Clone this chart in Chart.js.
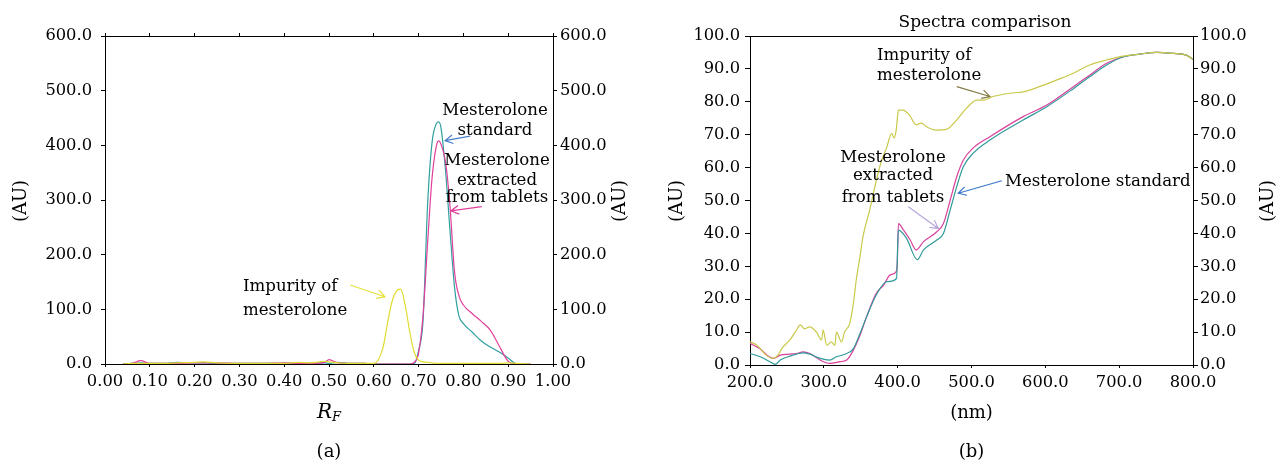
<!DOCTYPE html>
<html>
<head>
<meta charset="utf-8">
<script src="https://cdn.jsdelivr.net/npm/chart.js@4.4.1/dist/chart.umd.min.js"></script>
<style>
  body { margin: 0; background: #fff; }
  #wrap { position: relative; width: 1278px; height: 465px; }
  canvas { position: absolute; top: 0; }
</style>
</head>
<body>
<div id="wrap">
  <canvas id="rf" width="640" height="465" style="left:0"></canvas>
  <canvas id="spec" width="638" height="465" style="left:640px"></canvas>
</div>
<script>
// (a) densitogram, RF positions and peak heights (AU)
const rfGrid = [0.04, 0.06, 0.08, 0.10, 0.13, 0.16, 0.20, 0.22, 0.25, 0.30,
  0.35, 0.40, 0.43, 0.46, 0.49, 0.50, 0.52, 0.55, 0.58, 0.60,
  0.62, 0.63, 0.64, 0.65, 0.66, 0.67, 0.68, 0.69, 0.70, 0.71,
  0.72, 0.73, 0.74, 0.745, 0.75, 0.76, 0.77, 0.78, 0.79, 0.80,
  0.82, 0.84, 0.86, 0.88, 0.90, 0.92, 0.95];
const rfImpurity = [0, 1, 1, 1, 1, 2, 3, 4, 2, 1,
  1, 1, 3, 2, 5, 4, 2, 1, 1, 1,
  28, 72, 112, 133, 137, 108, 60, 22, 7, 4,
  3, 2, 1, 1, 1, 1, 1, 1, 1, 1,
  1, 1, 1, 1, 2, 1, 0];
const rfStandard = [0, 1, 2, 1, 1, 3, 2, 2, 1, 1,
  1, 1, 1, 1, 2, 1, 3, 1, 1, 0,
  0, 0, 0, 0, 0, 0, 0, 0.5, 25, 80,
  290, 405, 440, 443, 432, 355, 245, 142, 88, 74,
  58, 42, 31, 22, 11, 0, 0];
const rfExtracted = [0, 1, 6, 1, 1, 1, 2, 2, 2, 1,
  1, 2, 1, 1, 3, 8, 2, 1, 1, 0,
  0, 0, 0, 0, 0, 0, 0, 3, 20, 90,
  220, 340, 400, 408, 402, 370, 290, 170, 125, 108,
  92, 78, 62, 33, 5, 0, 0];

// (b) spectra, wavelength (nm) and absorbance (AU)
const impNm = [200, 209, 222, 231, 238, 243, 254, 263, 268, 274, 281, 290, 297, 299, 304, 310, 315, 317, 324, 328,
  335, 340, 344, 349, 353, 362, 371, 378, 385, 392, 395, 398, 400, 401, 407, 416, 425, 432, 439, 452,
  466, 480, 493, 507, 516, 529, 552, 570, 592, 615, 638, 660, 683, 705, 728, 751, 773, 791, 800];
const impAbs = [7.1, 6.1, 3.0, 2.0, 3.0, 5.0, 7.6, 10.6, 12.2, 11.0, 11.6, 10.0, 7.6, 10.6, 6.0, 7.0, 6.0, 10.0, 7.0, 10.0,
  12.6, 18.7, 26.0, 33.0, 39.0, 47.0, 56.0, 62.0, 66.0, 70.4, 69.0, 71.4, 76.0, 77.5, 77.5, 76.0, 73.0, 73.5, 72.4, 71.4,
  71.6, 74.5, 78.0, 80.5, 80.5, 81.6, 82.6, 83.0, 84.6, 86.6, 88.7, 91.2, 92.7, 93.9, 94.5, 95.0, 94.7, 94.2, 92.9];
const extNm = [200, 213, 223, 232, 241, 254, 263, 272, 281, 295, 308, 322, 331, 340, 349, 358, 371, 381, 390, 398,
  399.5, 401, 408, 417, 425, 435, 453, 462, 471, 480, 489, 502, 525, 570, 602, 638, 660, 683, 706, 728,
  751, 773, 791, 800];
const extAbs = [6.6, 5.0, 3.0, 2.0, 3.0, 3.3, 3.5, 4.0, 3.5, 1.5, 0.5, 1.0, 1.5, 4.5, 9.0, 14.7, 21.8, 24.3, 27.4, 28.4,
  31.0, 43.0, 41.0, 38.0, 35.0, 37.5, 40.5, 43.0, 50.0, 57.2, 62.3, 65.9, 69.4, 75.5, 79.0, 84.6, 88.1, 91.7, 93.7, 94.5,
  95.0, 94.7, 94.2, 92.9];
const stdNm = [200, 214, 227, 234, 241, 254, 272, 281, 295, 308, 317, 331, 340, 349, 358, 371, 385, 398.5, 400, 401,
  412, 426.5, 435, 453, 462, 471, 480, 489, 502, 525, 570, 602, 638, 660, 683, 706, 728, 751, 773, 791, 800];
const stdAbs = [3.5, 2.5, 1.0, 0.2, 1.5, 2.7, 3.7, 3.3, 2.0, 1.5, 2.5, 3.5, 5.0, 9.6, 14.7, 21.3, 25.3, 26.3, 36.0, 41.0,
  38.5, 32.0, 35.0, 38.0, 40.0, 47.0, 54.2, 60.3, 64.3, 68.4, 74.5, 78.5, 84.0, 87.6, 91.2, 93.7, 94.5, 95.0, 94.7, 94.2, 92.9];

const SERIF = '"DejaVu Serif", serif';
Chart.defaults.font.family = SERIF;
Chart.defaults.font.size = 16.3;
Chart.defaults.color = '#000';

const toPts = (xs, ys) => xs.map((x, i) => ({ x: x, y: ys[i] }));

function arrow(ctx, x1, y1, x2, y2, color) {
  const a = Math.atan2(y2 - y1, x2 - x1), h = 9;
  ctx.strokeStyle = color;
  ctx.lineWidth = 1.2;
  ctx.beginPath();
  ctx.moveTo(x1, y1);
  ctx.lineTo(x2, y2);
  ctx.moveTo(x2 - h * Math.cos(a - 0.5), y2 - h * Math.sin(a - 0.5));
  ctx.lineTo(x2, y2);
  ctx.lineTo(x2 - h * Math.cos(a + 0.5), y2 - h * Math.sin(a + 0.5));
  ctx.stroke();
}

// draws the callout labels, arrows and the free texts (titles, captions)
const notesPlugin = {
  id: 'notes',
  afterDraw(chart, args, opts) {
    const { ctx } = chart;
    const x = chart.scales.x, y = chart.scales.y;
    ctx.save();
    ctx.fillStyle = '#000';
    ctx.textBaseline = 'alphabetic';
    (opts.labels || []).forEach(l => {
      ctx.font = '16.6px ' + SERIF;
      ctx.textAlign = l.align || 'center';
      l.lines.forEach((t, i) => ctx.fillText(t, x.getPixelForValue(l.x), y.getPixelForValue(l.y[i])));
    });
    (opts.arrows || []).forEach(a => {
      arrow(ctx, x.getPixelForValue(a.from[0]), y.getPixelForValue(a.from[1]),
        x.getPixelForValue(a.to[0]), y.getPixelForValue(a.to[1]), a.color);
    });
    ctx.textBaseline = 'middle';
    (opts.texts || []).forEach(t => {
      ctx.save();
      ctx.translate(t.x, t.y);
      if (t.rot) ctx.rotate(t.rot);
      const parts = t.parts || [{ t: t.text, font: t.font }];
      let w = 0;
      parts.forEach(p => { ctx.font = p.font; w += ctx.measureText(p.t).width; });
      let cx = -w / 2;
      ctx.textAlign = 'left';
      parts.forEach(p => {
        ctx.font = p.font;
        ctx.fillText(p.t, cx, p.dy || 0);
        cx += ctx.measureText(p.t).width;
      });
      ctx.restore();
    });
    ctx.restore();
  }
};

function axis(opts) {
  return {
    type: 'linear',
    position: opts.position,
    min: opts.min, max: opts.max,
    border: { display: true, color: '#000', width: 1 },
    grid: { drawOnChartArea: false, drawTicks: opts.tick > 0, tickLength: opts.tick, color: '#000' },
    ticks: {
      display: opts.labels !== false,
      stepSize: opts.step,
      padding: opts.pad,
      autoSkip: false,
      maxRotation: 0,
      callback: v => v.toFixed(opts.digits)
    },
    afterFit: s => { if (s.isHorizontal()) s.height = opts.size; else s.width = opts.size; }
  };
}

const line = (label, data, color) => ({
  label: label, data: data, borderColor: color, borderWidth: 1.2,
  pointRadius: 0, fill: false, cubicInterpolationMode: 'monotone'
});

// chart (a)
new Chart(document.getElementById('rf'), {
  type: 'line',
  plugins: [notesPlugin],
  data: {
    datasets: [
      line('Impurity of mesterolone', toPts(rfGrid, rfImpurity), '#e0dc30'),
      line('Mesterolone extracted from tablets', toPts(rfGrid, rfExtracted), '#e0409c'),
      line('Mesterolone standard', toPts(rfGrid, rfStandard), '#30a0a0')
    ]
  },
  options: {
    responsive: false,
    animation: false,
    layout: { padding: { top: 33, left: 0, right: 0, bottom: 0 } },
    plugins: {
      legend: { display: false },
      tooltip: { enabled: false },
      notes: {
        labels: [
          { x: 0.8705, y: [455.5, 419], lines: ['Mesterolone', 'standard'] },
          { x: 0.875, y: [364, 327, 296], lines: ['Mesterolone', 'extracted', 'from tablets'] },
          { x: 0.308, y: [134, 89.6], lines: ['Impurity of', 'mesterolone'], align: 'left' }
        ],
        arrows: [
          { from: [0.815, 417], to: [0.759, 408.5], color: '#4a7fc9' },
          { from: [0.841, 288], to: [0.772, 280], color: '#e0409c' },
          { from: [0.547, 144.5], to: [0.625, 123], color: '#e6e03a' }
        ],
        texts: [
          { text: '(AU)', x: 21, y: 201, rot: -Math.PI / 2, font: '18px ' + SERIF },
          { text: '(AU)', x: 620, y: 201, rot: -Math.PI / 2, font: '18px ' + SERIF },
          { parts: [{ t: 'R', font: 'italic 20px ' + SERIF }, { t: 'F', font: 'italic 13px ' + SERIF, dy: 5 }], x: 329, y: 413 },
          { text: '(a)', x: 329, y: 452, font: '18px ' + SERIF }
        ]
      }
    },
    scales: {
      x: axis({ position: 'bottom', min: 0, max: 1, step: 0.1, digits: 2, tick: 3, pad: 5, size: 101 }),
      x2: axis({ position: 'top', min: 0, max: 1, step: 0.1, digits: 2, tick: 3, labels: false, size: 3 }),
      y: axis({ position: 'left', min: 0, max: 600, step: 100, digits: 1, tick: 4, pad: 9, size: 105 }),
      y2: axis({ position: 'right', min: 0, max: 600, step: 100, digits: 1, tick: 4, pad: 3, size: 87 })
    }
  }
});

// chart (b)
new Chart(document.getElementById('spec'), {
  type: 'line',
  plugins: [notesPlugin],
  data: {
    datasets: [
      line('Impurity of mesterolone', toPts(impNm, impAbs), '#c9c94a'),
      line('Mesterolone standard', toPts(stdNm, stdAbs), '#2f9a9a'),
      line('Mesterolone extracted from tablets', toPts(extNm, extAbs), '#d8409e')
    ]
  },
  options: {
    responsive: false,
    animation: false,
    layout: { padding: { top: 36, left: 0, right: 0, bottom: 0 } },
    plugins: {
      legend: { display: false },
      tooltip: { enabled: false },
      notes: {
        labels: [
          { x: 372, y: [92.7, 86.6], lines: ['Impurity of', 'mesterolone'], align: 'left' },
          { x: 393.7, y: [61.8, 56.2, 49.6], lines: ['Mesterolone', 'extracted', 'from tablets'] },
          { x: 545.4, y: [54.4], lines: ['Mesterolone standard'], align: 'left' }
        ],
        arrows: [
          { from: [480, 84.6], to: [525, 81.6], color: '#857a45' },
          { from: [414.4, 48.1], to: [455, 41.5], color: '#b6a6dc' },
          { from: [541, 56], to: [482, 52.2], color: '#3a78c8' }
        ],
        texts: [
          { text: 'Spectra comparison', x: 345, y: 23, font: '17px ' + SERIF },
          { text: '(AU)', x: 37, y: 201, rot: -Math.PI / 2, font: '18px ' + SERIF },
          { text: '(AU)', x: 628, y: 201, rot: -Math.PI / 2, font: '18px ' + SERIF },
          { text: '(nm)', x: 331.5, y: 413, font: '18px ' + SERIF },
          { text: '(b)', x: 331.5, y: 452, font: '18px ' + SERIF }
        ]
      }
    },
    scales: {
      x: axis({ position: 'bottom', min: 200, max: 800, step: 100, digits: 1, tick: 3, pad: 5, size: 100 }),
      x2: axis({ position: 'top', min: 200, max: 800, step: 100, digits: 1, tick: 0, labels: false, size: 0 }),
      y: axis({ position: 'left', min: 0, max: 100, step: 10, digits: 1, tick: 5, pad: 5, size: 110 }),
      y2: axis({ position: 'right', min: 0, max: 100, step: 10, digits: 1, tick: 5, pad: 2, size: 85 })
    }
  }
});
</script>
</body>
</html>
